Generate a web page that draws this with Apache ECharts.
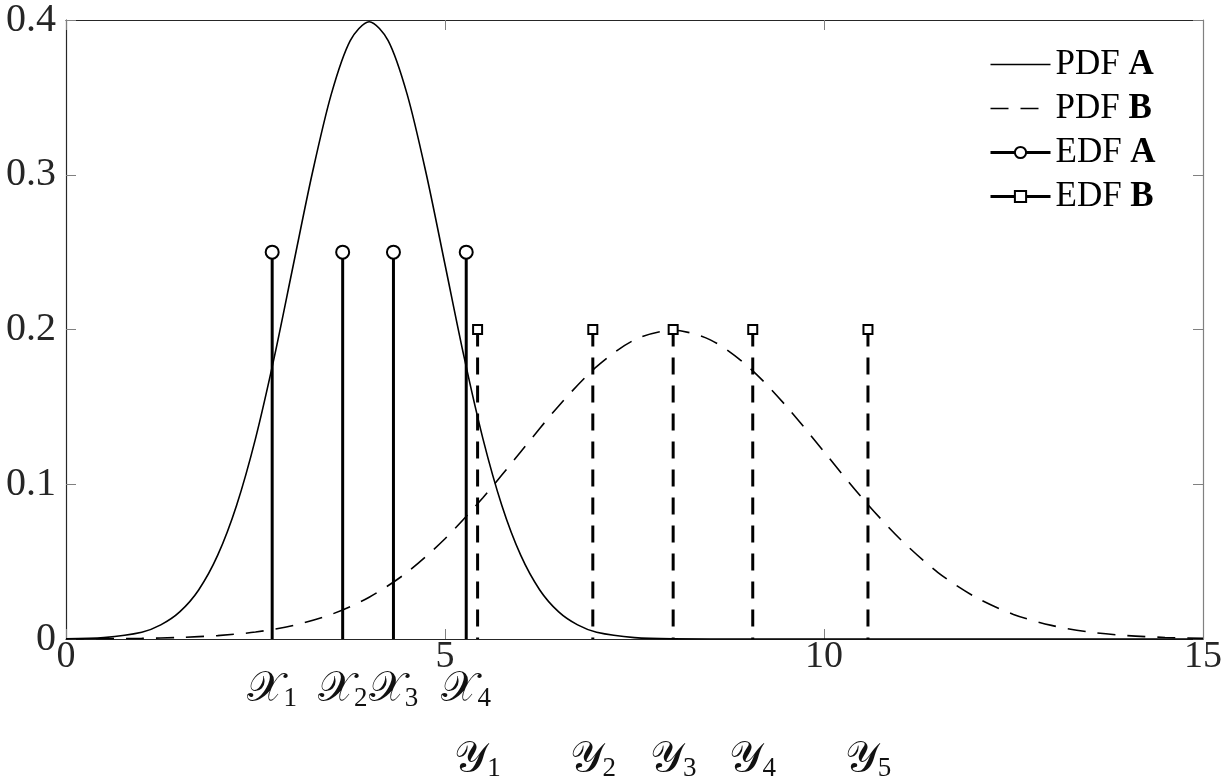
<!DOCTYPE html>
<html><head><meta charset="utf-8">
<script src="https://cdn.jsdelivr.net/npm/echarts@6/dist/echarts.min.js"></script>
<style>html,body{margin:0;padding:0;background:#fff}#c{width:1225px;height:784px}</style>
</head><body><div id="c"></div>
<script>
// PDF A samples
const pdfA_x = [0,0.5,1,1.25,1.5,1.75,2,2.25,2.5,2.75,3,3.25,3.5,3.75,4,4.25,4.5,4.75,5,5.25,5.5,5.75,6,6.25,6.5,6.75,7,7.5,8,9,10,11,12,13,14,15];
const pdfA_y = [0.0001,0.0009,0.0044,0.0091,0.0175,0.0317,0.054,0.0863,0.1295,0.1826,0.242,0.3011,0.3521,0.3867,0.3989,0.3867,0.3521,0.3011,0.242,0.1826,0.1295,0.0863,0.054,0.0317,0.0175,0.0091,0.0044,0.0009,0.0001,0,0,0,0,0,0,0];
// PDF B samples
const pdfB_x = [0,0.5,1,1.5,2,2.5,3,3.5,4,4.5,5,5.5,6,6.5,7,7.5,8,8.5,9,9.5,10,10.5,11,11.5,12,12.5,13,13.5,14,14.5,15];
const pdfB_y = [0.0001,0.0002,0.0004,0.001,0.0022,0.0045,0.0088,0.0159,0.027,0.0431,0.0648,0.0913,0.121,0.1506,0.176,0.1933,0.1995,0.1933,0.176,0.1506,0.121,0.0913,0.0648,0.0431,0.027,0.0159,0.0088,0.0045,0.0022,0.001,0.0004];
// EDF stems
const edfA_x = [2.72, 3.65, 4.32, 5.28];
const edfA_h = 0.25;
const edfB_x = [5.43, 6.95, 8.01, 9.06, 10.58];
const edfB_h = 0.2;
// labels
const edfA_sym = '𝒳', edfA_sub = ['1','2','3','4'];
const edfB_sym = '𝒴', edfB_sub = ['1','2','3','4','5'];
const seriesNames = ['PDF A','PDF B','EDF A','EDF B'];

const FONT = 'Liberation Serif';
const TXT = '#262626';
function pairs(xs, ys){ return xs.map((x,i)=>[x, ys[i]]); }
function stems(xs, h){
  const d = [];
  xs.forEach((x,i)=>{ if(i) d.push('-'); d.push([x,h]); d.push({value:[x,0], symbol:'none'}); });
  return d;
}
const richLbl = {
  m:{fontFamily:FONT, fontSize:42, color:'#111'},
  s:{fontFamily:FONT, fontSize:27, color:'#111', padding:[18,0,0,0]}
};
function labelAxis(xs, sym, subs, offset){
  return {
    type:'value', min:0, max:15, position:'bottom', offset:offset,
    axisLine:{show:false, onZero:false}, axisTick:{show:false}, splitLine:{show:false},
    axisLabel:{customValues: xs, margin:0, formatter: v => { const i = xs.indexOf(v); return '{m|'+sym+'}{s|'+subs[i]+'}'; }, rich: richLbl}
  };
}
const chart = echarts.init(document.getElementById('c'));
chart.setOption({
  animation:false,
  backgroundColor:'#fff',
  grid:{left:66, right:20, top:16, bottom:145, containLabel:false},
  legend:{
    data: [
      {name:'PDF A', itemStyle:{opacity:0}, lineStyle:{width:1.6}},
      {name:'PDF B', itemStyle:{opacity:0}, lineStyle:{width:1.6}},
      {name:'EDF A', lineStyle:{width:3}},
      {name:'EDF B', lineStyle:{width:3, type:'solid'}}
    ],
    orient:'vertical', left:984, top:42, itemWidth:60, itemHeight:14, itemGap:9,
    formatter: n => { const p = n.split(' '); return '{n|'+p[0]+' }{b|'+p[1]+'}'; },
    textStyle:{ rich:{ n:{fontFamily:FONT, fontSize:35, color:'#000'}, b:{fontFamily:FONT, fontSize:35, fontWeight:'bold', color:'#000'} } }
  },
  xAxis:[
    {type:'value', min:0, max:15, interval:5, position:'bottom',
     axisLine:{onZero:false, lineStyle:{color:TXT, width:1.2}}, axisTick:{inside:true, length:10, lineStyle:{color:'#808080'}},
     splitLine:{show:false}, axisLabel:{fontFamily:FONT, fontSize:38, color:TXT, margin:-1}},
    {type:'value', min:0, max:15, interval:5, position:'top',
     axisLine:{show:true, onZero:false, lineStyle:{color:TXT, width:1.2}}, axisTick:{inside:true, length:10, lineStyle:{color:'#808080'}},
     splitLine:{show:false}, axisLabel:{show:false}},
    labelAxis(edfA_x, edfA_sym, edfA_sub, 28),
    labelAxis(edfB_x, edfB_sym, edfB_sub, 98)
  ],
  yAxis:[
    {type:'value', min:0, max:0.4, interval:0.1, position:'left',
     axisLine:{show:true, onZero:false, lineStyle:{color:TXT, width:1.2}}, axisTick:{show:true, inside:true, length:10, lineStyle:{color:'#808080'}},
     splitLine:{show:false}, axisLabel:{fontFamily:FONT, fontSize:40, color:TXT, margin:10}},
    {type:'value', min:0, max:0.4, interval:0.1, position:'right',
     axisLine:{show:true, onZero:false, lineStyle:{color:'#808080', width:1.2}}, axisTick:{show:true, inside:true, length:10, lineStyle:{color:'#808080'}},
     splitLine:{show:false}, axisLabel:{show:false}}
  ],
  series:[
    {name:'PDF A', type:'line', data:pairs(pdfA_x,pdfA_y), smooth:0.3, symbol:'none', lineStyle:{color:'#000', width:1.6}, itemStyle:{color:'#000'}, z:3},
    {name:'PDF B', type:'line', data:pairs(pdfB_x,pdfB_y), smooth:0.3, symbol:'none', lineStyle:{color:'#000', width:1.6, type:[18,12]}, itemStyle:{color:'#000'}, z:3},
    {name:'EDF A', type:'line', data:stems(edfA_x, edfA_h), connectNulls:false, symbol:'emptyCircle', symbolSize:13,
     lineStyle:{color:'#000', width:3}, itemStyle:{color:'#000', borderColor:'#000', borderWidth:2.5}, z:4},
    {name:'EDF B', type:'line', data:stems(edfB_x, edfB_h), connectNulls:false, symbol:'emptyRect', symbolSize:9,
     lineStyle:{color:'#000', width:3, type:[17,11]}, itemStyle:{color:'#000', borderColor:'#000', borderWidth:2.2}, z:4}
  ]
});
</script></body></html>
